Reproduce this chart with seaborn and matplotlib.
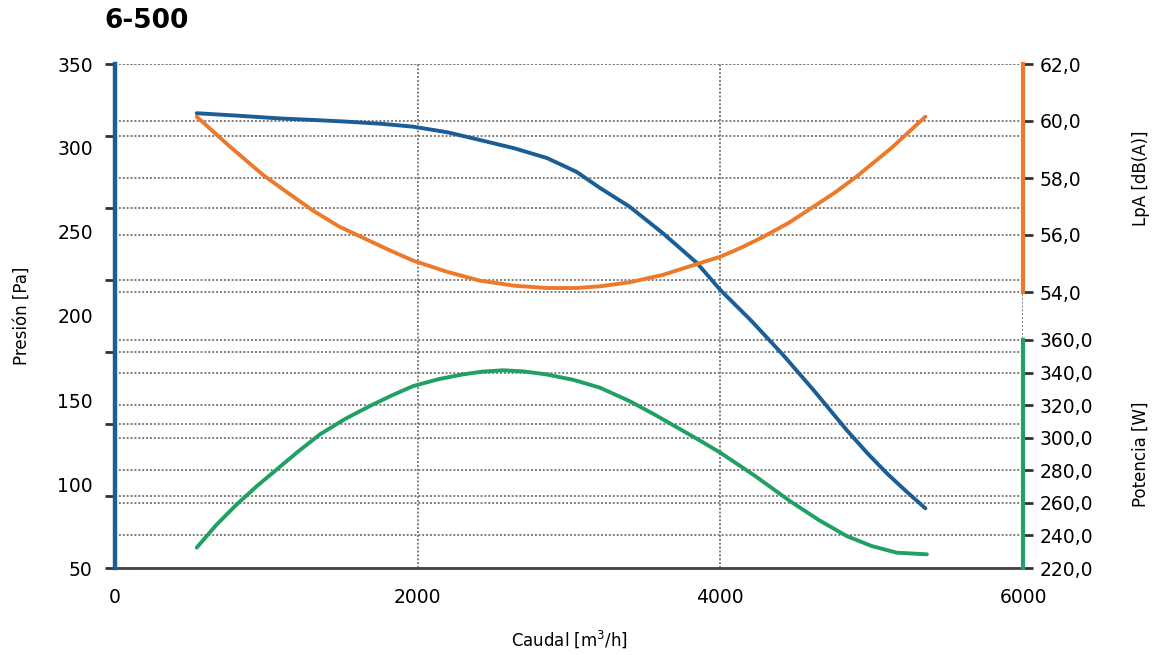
import numpy as np
import pandas as pd
import matplotlib
matplotlib.use("Agg")
import matplotlib.pyplot as plt
import matplotlib.transforms as mtransforms
import seaborn as sns

# valores
caudal_p = [540, 800, 1090, 1330, 1530, 1760, 1970, 2200, 2410, 2640, 2855, 3050, 3205,
            3400, 3620, 3845, 4000, 4200, 4410, 4615, 4835, 4970, 5100, 5230, 5355]
presion = [320.7, 319.3, 317.6, 316.6, 315.7, 314.4, 312.7, 309.3, 304.8, 299.8, 294.0, 285.8, 276.2,
           265.1, 249.3, 231.6, 215.5, 197.6, 177.3, 156.0, 132.1, 118.5, 106.4, 95.5, 85.5]

caudal_l = [540, 760, 980, 1150, 1310, 1480, 1640, 1800, 1970, 2200, 2410, 2640, 2855, 3050,
            3205, 3400, 3620, 3845, 4000, 4140, 4285, 4450, 4615, 4760, 4900, 5130, 5355]
lpa = [60.15, 59.1, 58.1, 57.45, 56.85, 56.3, 55.9, 55.5, 55.1, 54.7, 54.4, 54.22, 54.14, 54.14,
       54.2, 54.34, 54.6, 54.98, 55.24, 55.56, 55.94, 56.42, 56.99, 57.5, 58.05, 59.05, 60.15]

caudal_w = [540, 670, 805, 940, 1070, 1210, 1355, 1520, 1685, 1830, 1970, 2140, 2300, 2430, 2565,
            2700, 2850, 3030, 3205, 3400, 3560, 3735, 3870, 4000, 4230, 4460, 4650, 4835, 5000,
            5165, 5365]
potencia = [232.5, 246.5, 259.1, 270.5, 280.6, 291.5, 302.1, 311.5, 319.5, 326.0, 331.7, 336.0, 338.9,
            340.6, 341.4, 340.7, 338.9, 335.5, 330.7, 322.5, 314.5, 305.2, 298.0, 290.8, 276.5, 261.1,
            249.5, 239.6, 233.5, 229.4, 228.4]

x_ticks = [0, 2000, 4000, 6000]
p_labels = [50, 100, 150, 200, 250, 300, 350]
db_ticks = [54, 56, 58, 60, 62]
w_ticks = [220, 240, 260, 280, 300, 320, 340, 360]

c_blue = "#1b5e96"
c_orange = "#ec7a2b"
c_green = "#20a064"
c_grid = "#7d7d7d"

sns.set_style("white")
plt.rcParams["font.family"] = ["DejaVu Sans"]
plt.rcParams["text.color"] = "black"
plt.rcParams["axes.labelcolor"] = "black"

df_p = pd.DataFrame({"caudal": caudal_p, "valor": presion})
df_l = pd.DataFrame({"caudal": caudal_l, "valor": lpa})
df_w = pd.DataFrame({"caudal": caudal_w, "valor": potencia})

fig = plt.figure(figsize=(11.56, 6.55), dpi=100)
ax = fig.add_axes([115 / 1156, 1 - 568 / 655, 908 / 1156, 504 / 655])
ax_db = ax.twinx()
ax_w = ax.twinx()
for a in (ax_db, ax_w):
    a.patch.set_visible(False)

ax.set_xlim(0, 6000)
ax.set_ylim(50, 350)
# escalas derechas: 62 dB arriba, 54 dB a 228 px; 220 W abajo, 360 W a 228 px
ax_db.set_ylim(62 - 8 * 504 / 228, 62)
ax_w.set_ylim(220, 220 + 140 * 504 / 228)

# rejilla punteada
grid_kw = dict(color=c_grid, lw=1.4, ls=(0, (1, 1)), zorder=0.5)
left_marks = np.linspace(50, 350, 8)
for v in left_marks:
    ax.axhline(v, **grid_kw)
tr_db = mtransforms.blended_transform_factory(ax.transAxes, ax_db.transData)
tr_w = mtransforms.blended_transform_factory(ax.transAxes, ax_w.transData)
for v in db_ticks:
    ax.plot([0, 1], [v, v], transform=tr_db, **grid_kw)
for v in w_ticks:
    ax.plot([0, 1], [v, v], transform=tr_w, **grid_kw)
for v in x_ticks[1:]:
    ax.axvline(v, **grid_kw)

sns.lineplot(data=df_p, x="caudal", y="valor", ax=ax, color=c_blue, lw=2.8, sort=False, zorder=3)
sns.lineplot(data=df_l, x="caudal", y="valor", ax=ax_db, color=c_orange, lw=2.8, sort=False)
sns.lineplot(data=df_w, x="caudal", y="valor", ax=ax_w, color=c_green, lw=2.8, sort=False)

# ejes
ax.set_xticks(x_ticks)
ax.set_xticklabels([str(v) for v in x_ticks], fontsize=13.5)
ax.tick_params(axis="x", direction="inout", length=9, width=1.5, color="#444444",
               labelcolor="black", pad=10)
ax.yaxis.remove_overlapping_locs = False
ax.set_yticks(left_marks)
ax.set_yticklabels([""] * len(left_marks))
ax.set_yticks(p_labels, minor=True)
ax.set_yticklabels([str(v) for v in p_labels], minor=True, fontsize=13.5)
ax.tick_params(axis="y", which="major", direction="out", length=7, width=2, color="#333333")
ax.tick_params(axis="y", which="minor", length=0, pad=16, labelcolor="black")

for s in ("top", "right"):
    ax.spines[s].set_visible(False)
ax.spines["left"].set_color(c_blue)
ax.spines["left"].set_linewidth(3.2)
ax.spines["left"].set_zorder(4)
ax.spines["bottom"].set_color("#444444")
ax.spines["bottom"].set_linewidth(2)

for a, ticks, col, lab in ((ax_db, db_ticks, c_orange, "LpA [dB(A)]"),
                           (ax_w, w_ticks, c_green, "Potencia [W]")):
    for s in ("top", "left", "bottom"):
        a.spines[s].set_visible(False)
    a.spines["right"].set_color(col)
    a.spines["right"].set_linewidth(3)
    a.spines["right"].set_bounds(ticks[0], ticks[-1])
    a.set_yticks(ticks)
    a.set_yticklabels([f"{v:.1f}".replace(".", ",") for v in ticks], fontsize=13.5)
    a.tick_params(axis="y", direction="out", length=7, width=2, color="#333333",
                  labelcolor="black", pad=5)
    a.set_xlabel("")
    a.set_ylabel("")
    a.text(1.13, np.mean([ticks[0], ticks[-1]]), lab,
           transform=mtransforms.blended_transform_factory(a.transAxes, a.transData),
           rotation=90, ha="center", va="center", fontsize=12)

ax.set_xlabel("Caudal [m$^3$/h]", fontsize=12, labelpad=15)
ax.set_ylabel("Presión [Pa]", fontsize=12, labelpad=19)

fig.text(104 / 1156, 1 - 21 / 655, "6-500", fontsize=19, fontweight="bold",
         ha="left", va="center")

fig.savefig("out.png", dpi=100)
